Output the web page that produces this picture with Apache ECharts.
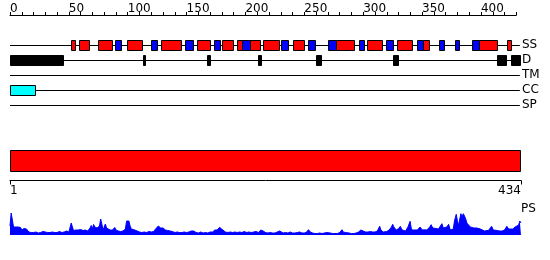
<!DOCTYPE html>
<html>
<head>
<meta charset="utf-8">
<script src="https://cdn.jsdelivr.net/npm/echarts@6/dist/echarts.min.js"></script>
<style>html,body{margin:0;padding:0;background:#fff}#c{width:550px;height:260px}</style>
</head>
<body>
<div id="c"></div>
<script>
// ---- data ----
var seqLength = 434;
var trackNames = ['SS', 'D', 'TM', 'CC', 'SP'];
var topTicks = [0, 50, 100, 150, 200, 250, 300, 350, 400];
var helices = [[52,55],[59,67],[75,87],[99,112],[128,145],[158.5,169.5],[180,189],[193,197],[203.5,212],[215,228.5],[240,249.5],[277,292],[303.5,316],[329,341],[350.5,355.5],[398.5,414],[422.5,425.5]];
var strands = [[89,94],[120,124.5],[149,155],[173.5,178.5],[197,203.5],[230,236],[253.5,259],[270,277],[296.5,301],[319.5,325.5],[346,350.5],[364,368.5],[378,381],[392,398.5]];
var disorder = [[0,45],[113,115],[167.5,169.5],[211,213],[260,264.5],[325.5,329.5],[413.5,421],[425.5,433]];
var transmembrane = [];
var coiledCoil = [[0,21]];
var signalPeptide = [];
var domainRange = [1, 434];
var psResidue = [0,1,2,3,4,5,6,7,8,9,10,11,12,13,14,15,16,18,20,22,24,26,28,30,32,34,36,38,40,42,44,46,48,50,52,53,54,56,57,58,60,62,63,64,66,68,69,70,71,72,73,74,75,76,77,78,79,80,81,82,83,85,86,87,88,89,90,92,94,96,98,99,100,101,102,103,104,106,108,110,112,114,116,118,120,122,124,125,126,127,128,129,130,131,132,134,136,138,140,142,144,146,148,150,152,154,155,156,158,160,162,164,166,168,170,172,174,175,176,177,178,179,180,181,183,185,187,189,191,193,195,197,199,201,203,205,207,209,211,213,214,215,217,219,221,223,225,227,229,230,232,234,236,238,240,242,244,246,248,250,252,253.5,255,257,259,261,263,265,267,269,270.5,272,274,276,278,280,282,283,285,286,288,290,292,294,296,298,299,300,302,304,306,308,310,312,314,315,317,318.6,320,322,324,325,326,327,328,330,331.5,333,334,336,337,338,339.8,341,343,344,346,347,348.3,350,352,354,355,356.5,357.7,359,360,362,364,365.5,366.8,368,369.6,371,372.5,374,375,376.5,377.5,379,380,381,382,383,384,385,386,387,388,389.5,391,392.3,394,395,396.5,398,399.5,401,403,404.5,406.5,408,409,410.5,412,414,416,418,420,422,423.5,425,427,429,430.5,432,433,434];
var psScore = [9,22,15,8,6,8,7,8,6,7.5,5,4.5,6.5,5,6,4,3,2.5,2.5,3,2,2.5,3.5,3,2.5,2.5,3,2.5,2.5,3.5,2.5,3,4,3,12,8,4.5,5,7,5,5.5,4.5,6,5,4,7,9.5,6,10.5,8,10,7,5.5,9,16,11,5,6,11,7,5.5,5,6,5,6,7.5,5,4,3.5,4,6,14,15.5,14,9,6,4.5,5,4,3,2.5,3,2.5,3.5,3,3.5,6.5,5,9,11,7,6,7,8,5,4.5,4,3.5,2.5,3,2.5,2.5,3,2.5,3,4,5.7,4,2.5,2,3,2,2.5,2,3,3,5,6.7,5,6,7.7,6,5.7,4,3,2.5,3,2.5,3,2.5,3,2.5,3.5,2.5,3,2.5,3,3.5,2.5,5,6,4,2.5,2,2.5,2,2,3,4,3,2,2.5,2,3,2,2,2.5,3,2,2,3,5.3,3,2,1.5,1.5,2,1.5,2,2.5,3,2,1.5,1.5,1.5,2.5,5.3,3,2.5,3,2,1.5,1.5,2,3,5,6.5,4,3,3,3.5,3,3,4,8.7,5,3,3,3.5,5,8,10.7,8,6.3,5,6.3,8.7,5,5.3,4,5,8,13.7,5.3,5,5.3,5,6,8,5,5.3,5,5.5,8,10.3,7,6,6.5,6,6.3,11.3,7,6.3,8,10.7,5,3,6,14,20.7,14,9.7,16,21.3,18,21.3,19,16.3,12,10.7,8,9.7,7,6.3,7,8.7,6,4.7,4,5,4.7,6,8.7,5,4,4.5,4,4,5,8.7,6,4.7,6,8,7,10,14,12];

// ---- helpers ----
function pairs(list, track) { return list.map(function (d) { return [d[0], d[1], track]; }); }
function boxRenderer(fill, h, stroke) {
  return function (params, api) {
    var s = api.coord([api.value(0), api.value(2)]);
    var e = api.coord([api.value(1), api.value(2)]);
    var x0 = Math.round(s[0]) + 0.5, x1 = Math.round(e[0]) + 0.5;
    var y0 = Math.round(s[1] - h / 2) + 0.5;
    return { type: 'rect', shape: { x: x0, y: y0, width: Math.max(1, x1 - x0), height: h },
      style: { fill: fill, stroke: stroke ? '#000' : fill, lineWidth: 1 } };
  };
}
function lineRenderer(params, api) {
  var s = api.coord([api.value(0), api.value(2)]);
  var e = api.coord([api.value(1), api.value(2)]);
  var y = Math.round(s[1]) + 0.5;
  return { type: 'line', shape: { x1: s[0], y1: y, x2: e[0], y2: y }, style: { stroke: '#000', lineWidth: 1 } };
}
var font = 'DejaVu Sans';
var chart = echarts.init(document.getElementById('c'), null, { renderer: 'canvas' });
chart.setOption({
  animation: false,
  backgroundColor: '#fff',
  textStyle: { fontFamily: font },
  grid: [
    { left: 10, top: 15, width: 506.3, height: 1 },
    { left: 10, top: 37.5, width: 511, height: 75 },
    { left: 10, top: 150, width: 511, height: 30.5 },
    { left: 10, top: 213, width: 511, height: 22 }
  ],
  xAxis: [
    { gridIndex: 0, type: 'value', position: 'top', min: 0, max: 430, interval: 10,
      axisLine: { onZero: false, lineStyle: { color: '#000', width: 1 } },
      axisTick: { length: 3, lineStyle: { color: '#000' } },
      axisLabel: { color: '#000', fontSize: 12, fontFamily: font, align: 'left', margin: 0,
        formatter: function (v) { return topTicks.indexOf(v) >= 0 ? String(v) : ''; } },
      splitLine: { show: false } },
    { gridIndex: 1, type: 'value', min: 0, max: seqLength, show: false },
    { gridIndex: 2, type: 'value', min: domainRange[0], max: domainRange[1], position: 'bottom',
      axisLine: { onZero: false, lineStyle: { color: '#000', width: 1 } },
      axisTick: { length: 4, customValues: domainRange, lineStyle: { color: '#000' } },
      axisLabel: { color: '#000', fontSize: 12, fontFamily: font, margin: 4, customValues: domainRange,
        alignMinLabel: 'left', alignMaxLabel: 'right' },
      splitLine: { show: false } },
    { gridIndex: 3, type: 'value', min: 0, max: seqLength, show: false }
  ],
  yAxis: [
    { gridIndex: 0, type: 'value', show: false },
    { gridIndex: 1, type: 'category', data: trackNames, inverse: true, position: 'right',
      axisLine: { show: false }, axisTick: { show: false }, splitLine: { show: false },
      axisLabel: { color: '#000', fontSize: 12, fontFamily: font, margin: 1, align: 'left', interval: 0 } },
    { gridIndex: 2, type: 'value', min: 0, max: 30.5, inverse: true, show: false },
    { gridIndex: 3, type: 'value', min: 0, max: 22, show: false }
  ],
  graphic: [
    { type: 'text', left: 521, top: 203, style: { text: 'PS', fill: '#000', font: '12px "DejaVu Sans"' } }
  ],
  series: [
    { type: 'custom', xAxisIndex: 1, yAxisIndex: 1, renderItem: lineRenderer, encode: { x: [0, 1], y: 2 },
      data: trackNames.map(function (n, i) { return [0, seqLength - 1, i]; }), z: 1 },
    { type: 'custom', xAxisIndex: 1, yAxisIndex: 1, renderItem: boxRenderer('#ff0000', 10, true), encode: { x: [0, 1], y: 2 }, data: pairs(helices, 0), z: 2 },
    { type: 'custom', xAxisIndex: 1, yAxisIndex: 1, renderItem: boxRenderer('#0000ff', 10, true), encode: { x: [0, 1], y: 2 }, data: pairs(strands, 0), z: 3 },
    { type: 'custom', xAxisIndex: 1, yAxisIndex: 1, renderItem: boxRenderer('#000000', 10, false), encode: { x: [0, 1], y: 2 }, data: pairs(disorder, 1), z: 2 },
    { type: 'custom', xAxisIndex: 1, yAxisIndex: 1, renderItem: boxRenderer('#00ffff', 10, true), encode: { x: [0, 1], y: 2 }, data: pairs(transmembrane, 2).concat(pairs(coiledCoil, 3)), z: 2 },
    { type: 'custom', xAxisIndex: 2, yAxisIndex: 2, encode: { x: [0, 1] },
      renderItem: function (params, api) {
        var s = api.coord([api.value(0), 0]);
        var e = api.coord([api.value(1), 20.5]);
        return { type: 'rect', shape: { x: Math.round(s[0]) + 0.5, y: Math.round(s[1]) + 0.5, width: Math.round(e[0] - s[0]) - 1, height: Math.round(e[1] - s[1]) },
          style: { fill: '#ff0000', stroke: '#000', lineWidth: 1 } };
      },
      data: [[domainRange[0], domainRange[1]]] },
    { type: 'line', xAxisIndex: 3, yAxisIndex: 3, showSymbol: false, symbol: 'none',
      data: psResidue.map(function (r, i) { return [r, psScore[i]]; }),
      lineStyle: { color: '#0000ff', width: 1 }, areaStyle: { color: '#0000ff', opacity: 1 } }
  ]
});
</script>
</body>
</html>
